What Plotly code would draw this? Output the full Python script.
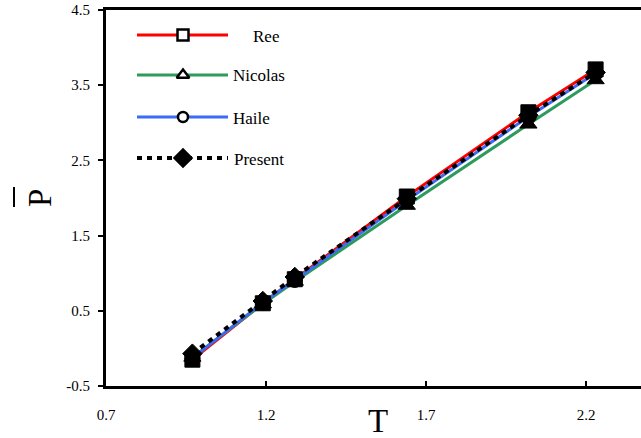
import plotly.graph_objects as go

# ---------------- data ----------------
T = [0.97, 1.19, 1.29, 1.64, 2.02, 2.23]
ree = [-0.15, 0.60, 0.92, 2.02, 3.14, 3.71]
nicolas = [-0.12, 0.59, 0.89, 1.90, 2.98, 3.57]
haile = [-0.13, 0.61, 0.91, 1.97, 3.08, 3.66]
present = [-0.07, 0.63, 0.95, 1.99, 3.10, 3.67]

series_names = ["Ree", "Nicolas", "Haile", "Present"]
x_tickvals = [0.7, 1.2, 1.7, 2.2]
x_ticktext = ["0.7", "1.2", "1.7", "2.2"]
y_tickvals = [-0.5, 0.5, 1.5, 2.5, 3.5, 4.5]
y_ticktext = ["-0.5", "0.5", "1.5", "2.5", "3.5", "4.5"]

# ---------------- layout constants ----------------
W, H = 641, 438
ML, MT, MB, MR = 106, 10, 52, 0
PW, PH = W - ML - MR, H - MT - MB
X0 = 0.7
PX_PER_UNIT_X = 320.0
XMAX = X0 + PW / PX_PER_UNIT_X
FONT = "Liberation Serif"

RED, GREEN, BLUE = "#ff0000", "#2e9a5c", "#3b6cf5"

def px2paper(xp, yp):
    return (xp - ML) / PW, (H - MB - yp) / PH

styles = [
    dict(name="Ree", y=ree, color=RED, dash="solid", width=3, symbol="square"),
    dict(name="Nicolas", y=nicolas, color=GREEN, dash="solid", width=3, symbol="triangle-up"),
    dict(name="Haile", y=haile, color=BLUE, dash="solid", width=3, symbol="circle"),
    dict(name="Present", y=present, color="black", dash="5px,5px", width=4, symbol="diamond"),
]

fig = go.Figure()
for s in styles:
    fig.add_trace(go.Scatter(
        x=T, y=s["y"], mode="lines", name=s["name"],
        line=dict(color=s["color"], width=s["width"], dash=s["dash"]),
        showlegend=False, hoverinfo="skip"))
msize = {"square": 15, "triangle-up": 15, "circle": 15, "diamond": 15}
for s in reversed(styles):
    fig.add_trace(go.Scatter(
        x=T, y=s["y"], mode="markers", name=s["name"],
        marker=dict(symbol=s["symbol"], size=msize[s["symbol"]], color="black",
                    line=dict(color="black", width=1)),
        showlegend=False))

# ---------------- custom legend (overlay axes in paper units) ----------------
rows_y = [35, 75, 117, 158]
line_x0, line_x1, mark_x = 137, 228, 183
text_x = [251, 231, 231, 232]
leg_msize = {"square": 11, "triangle-up": 11, "circle": 10, "diamond": 13}
annotations = []
for s, ry, tx in zip(styles, rows_y, text_x):
    xa, ya = px2paper(line_x0, ry)
    xb, _ = px2paper(line_x1, ry)
    xm, _ = px2paper(mark_x, ry)
    fig.add_trace(go.Scatter(
        x=[xa, xb], y=[ya, ya], mode="lines", xaxis="x2", yaxis="y2",
        line=dict(color=s["color"], width=s["width"], dash=s["dash"]),
        showlegend=False, hoverinfo="skip"))
    filled = s["symbol"] == "diamond"
    fig.add_trace(go.Scatter(
        x=[xm], y=[ya], mode="markers", xaxis="x2", yaxis="y2",
        marker=dict(symbol=s["symbol"], size=leg_msize[s["symbol"]],
                    color="black" if filled else "white",
                    line=dict(color="black", width=2.5)),
        showlegend=False, hoverinfo="skip"))
    xt, yt = px2paper(tx, ry + 1)
    annotations.append(dict(x=xt, y=yt, xref="paper", yref="paper", text=s["name"],
                            showarrow=False, xanchor="left", yanchor="middle",
                            font=dict(family=FONT, size=17, color="black")))

# axis titles
xt, yt = px2paper(378, 421)
annotations.append(dict(x=xt, y=yt, xref="paper", yref="paper", text="T", showarrow=False,
                        xanchor="center", yanchor="middle",
                        font=dict(family=FONT, size=33, color="black")))
xp, yp = px2paper(40, 198)
annotations.append(dict(x=xp, y=yp, xref="paper", yref="paper", text="P", showarrow=False,
                        xanchor="center", yanchor="middle", textangle=-90,
                        font=dict(family=FONT, size=33, color="black")))
ox, oy0 = px2paper(14, 187)
_, oy1 = px2paper(14, 207)
shapes = [dict(type="line", xref="paper", yref="paper", x0=ox, x1=ox, y0=oy0, y1=oy1,
               line=dict(color="black", width=2))]

fig.update_layout(
    width=W, height=H,
    margin=dict(l=ML, r=MR, t=MT, b=MB, pad=0),
    paper_bgcolor="white", plot_bgcolor="white",
    font=dict(family=FONT, size=15, color="black"),
    annotations=annotations, shapes=shapes,
    xaxis=dict(range=[X0, XMAX], tickvals=x_tickvals, ticktext=x_ticktext,
               showgrid=False, zeroline=False, showline=True, linecolor="black",
               linewidth=3, mirror=True, ticks="inside", ticklen=5, tickwidth=1.5,
               tickcolor="black", ticklabelstandoff=13,
               tickfont=dict(family=FONT, size=15)),
    yaxis=dict(range=[-0.5, 4.5], tickvals=y_tickvals, ticktext=y_ticktext,
               showgrid=False, zeroline=False, showline=True, linecolor="black",
               linewidth=3, ticks="outside", ticklen=5, tickwidth=1.5,
               tickcolor="black", ticklabelstandoff=5,
               tickfont=dict(family=FONT, size=15)),
    xaxis2=dict(range=[0, 1], overlaying="x", visible=False, fixedrange=True),
    yaxis2=dict(range=[0, 1], overlaying="y", visible=False, fixedrange=True),
    showlegend=False,
)

fig.write_html("out.html")
